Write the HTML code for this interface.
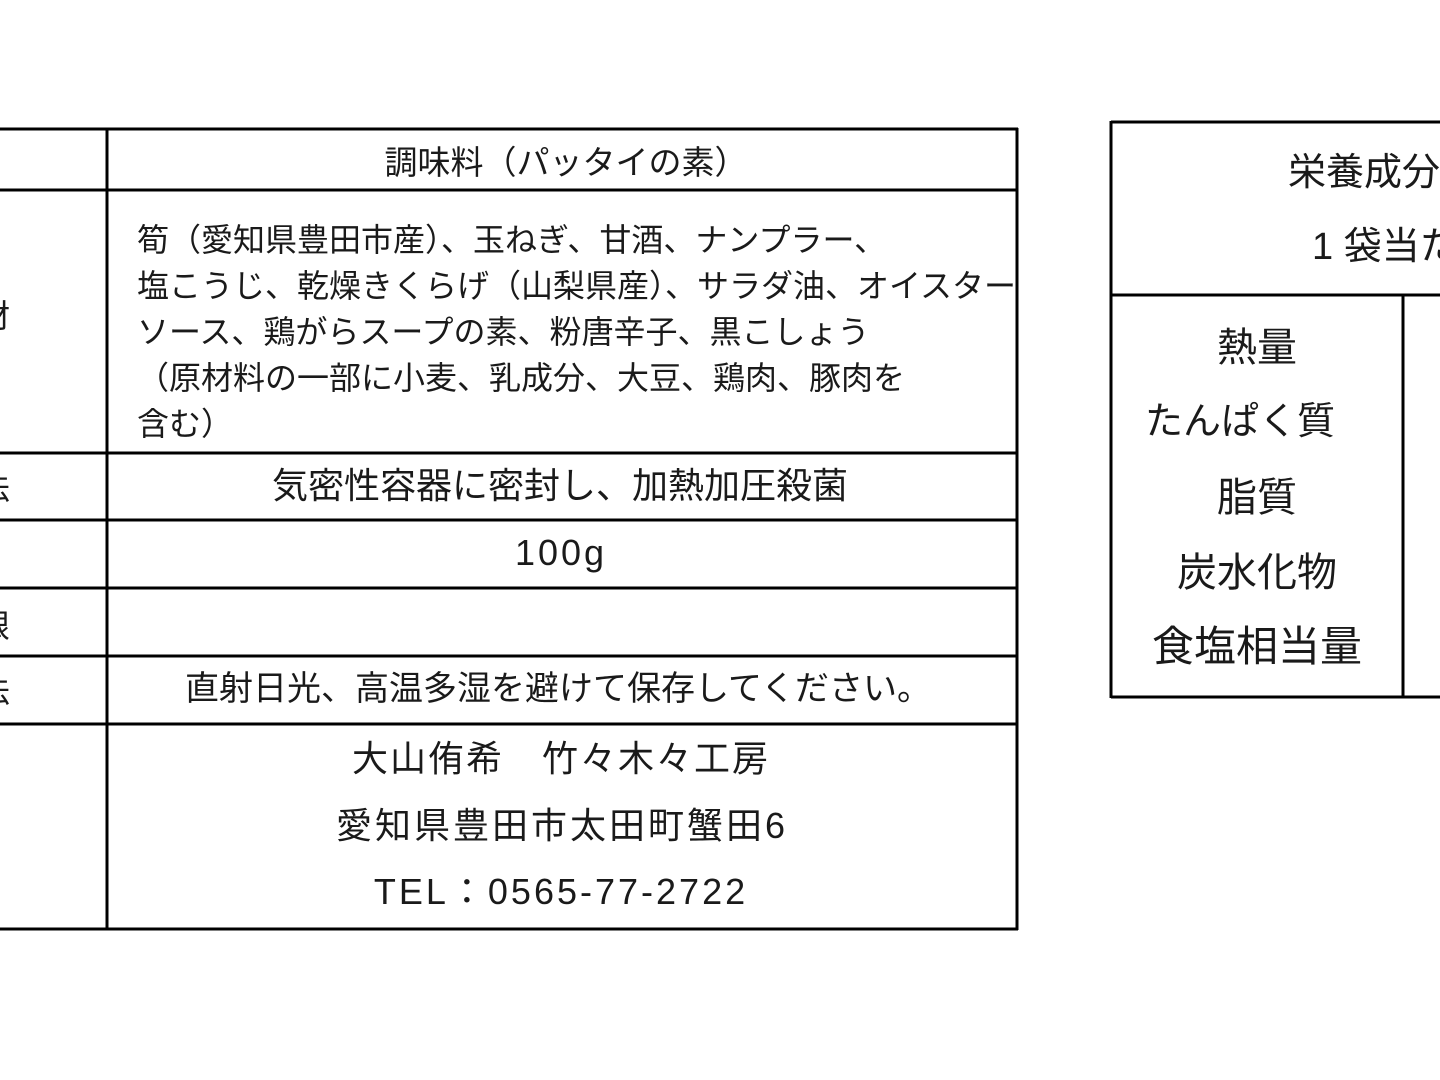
<!DOCTYPE html>
<html><head><meta charset="utf-8"><style>
html,body{margin:0;padding:0;background:#fff;width:1440px;height:1080px;overflow:hidden;position:relative}
.t{position:absolute;font-family:"Liberation Sans","Noto Sans CJK JP",sans-serif;font-size:32px;color:#1a1a1a;white-space:nowrap;line-height:1}
.c{transform:translateX(-50%)}
</style></head><body>
<svg width="1440" height="1080" style="position:absolute;left:0;top:0">
<g stroke="#000" stroke-width="3" fill="none">
<line x1="0" y1="129" x2="1018" y2="129"/>
<line x1="0" y1="190" x2="1018" y2="190"/>
<line x1="0" y1="453" x2="1018" y2="453"/>
<line x1="0" y1="520" x2="1018" y2="520"/>
<line x1="0" y1="588" x2="1018" y2="588"/>
<line x1="0" y1="656" x2="1018" y2="656"/>
<line x1="0" y1="724" x2="1018" y2="724"/>
<line x1="0" y1="929" x2="1018" y2="929"/>
<line x1="107" y1="128" x2="107" y2="930"/>
<line x1="1017" y1="128" x2="1017" y2="930"/>
<line x1="1111" y1="122" x2="1440" y2="122"/>
<line x1="1111" y1="295" x2="1440" y2="295"/>
<line x1="1111" y1="697" x2="1440" y2="697"/>
<line x1="1111" y1="121" x2="1111" y2="698"/>
<line x1="1403" y1="295" x2="1403" y2="698"/>
</g></svg>
<div style="position:absolute;left:0;top:0;width:20px;height:1080px;overflow:hidden">
<div class="t" style="left:-22px;top:300px">材</div>
<div class="t" style="left:-22px;top:472px">法</div>
<div class="t" style="left:-22px;top:610px">限</div>
<div class="t" style="left:-22px;top:675px">法</div>
</div>
<div class="t c" style="left:566px;top:146px;font-size:33px">調味料（パッタイの素）</div>
<div class="t" style="left:137px;top:217px;line-height:46px;font-size:32px">筍（愛知県豊田市産）、玉ねぎ、甘酒、ナンプラー、<br>塩こうじ、乾燥きくらげ（山梨県産）、サラダ油、オイスター<br>ソース、鶏がらスープの素、粉唐辛子、黒こしょう<br>（原材料の一部に小麦、乳成分、大豆、鶏肉、豚肉を<br>含む）</div>
<div class="t c" style="left:560px;top:468px;font-size:36px">気密性容器に密封し、加熱加圧殺菌</div>
<div class="t c" style="left:561px;top:535px;font-size:36px;letter-spacing:3px">100g</div>
<div class="t c" style="left:558px;top:672px;font-size:34px">直射日光、高温多湿を避けて保存してください。</div>
<div class="t c" style="left:561px;top:741px;font-size:36px;letter-spacing:2px">大山侑希　竹々木々工房</div>
<div class="t c" style="left:562px;top:808px;font-size:36px;letter-spacing:3px">愛知県豊田市太田町蟹田6</div>
<div class="t c" style="left:561px;top:874px;font-size:36px;letter-spacing:3px">TEL：0565-77-2722</div>
<div class="t" style="left:1288px;top:154px;font-size:38px">栄養成分表示</div>
<div class="t" style="left:1312px;top:228px;font-size:38px">1 袋当たり</div>
<div class="t c" style="left:1257px;top:328px;font-size:40px">熱量</div>
<div class="t c" style="left:1240px;top:403px;font-size:38px">たんぱく質</div>
<div class="t c" style="left:1257px;top:478px;font-size:40px">脂質</div>
<div class="t c" style="left:1257px;top:553px;font-size:40px">炭水化物</div>
<div class="t c" style="left:1257px;top:626px;font-size:42px">食塩相当量</div>
</body></html>
